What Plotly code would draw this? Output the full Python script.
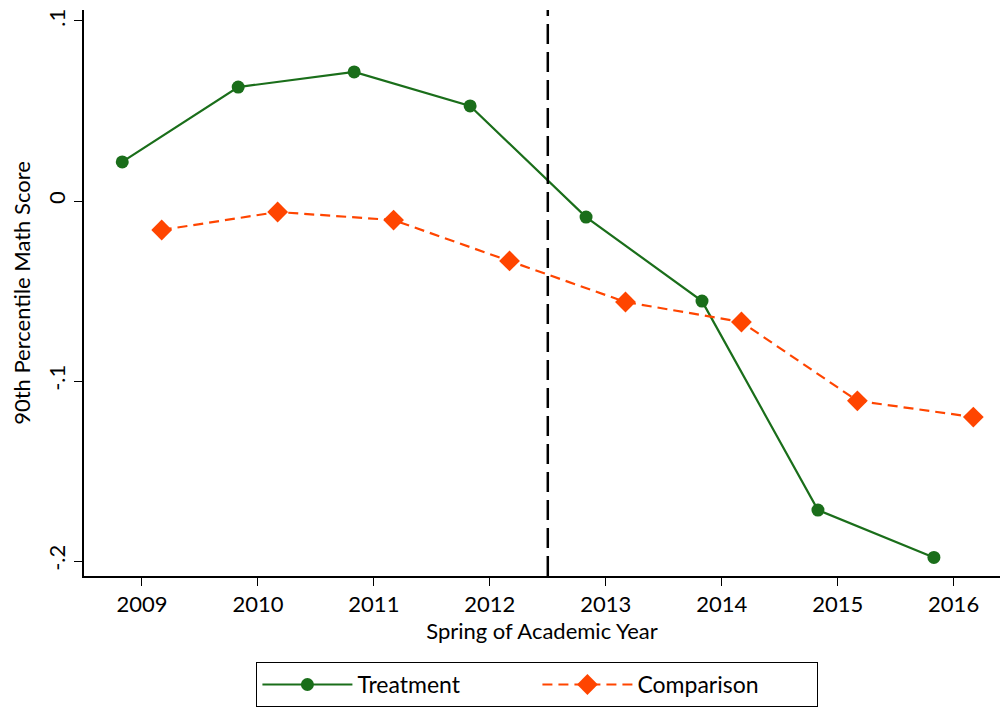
import plotly.graph_objects as go

years = [2009, 2010, 2011, 2012, 2013, 2014, 2015, 2016]
treat_x = [2008.83, 2009.83, 2010.83, 2011.83, 2012.83, 2013.83, 2014.83, 2015.83]
treat_y = [0.0217, 0.0633, 0.0717, 0.0528, -0.0089, -0.0556, -0.1717, -0.198]
comp_x = [2009.17, 2010.17, 2011.17, 2012.17, 2013.17, 2014.17, 2015.17, 2016.17]
comp_y = [-0.0161, -0.0061, -0.0106, -0.0333, -0.0561, -0.0672, -0.111, -0.12]
y_ticks = [-0.2, -0.1, 0, 0.1]
y_labels = ["-.2", "-.1", "0", ".1"]
cutoff = 2012.5

fig = go.Figure()
fig.add_trace(go.Scatter(x=treat_x, y=treat_y, mode="lines+markers", name="Treatment",
                         line=dict(color="#1a6e1a", width=2.2),
                         marker=dict(symbol="circle", size=13, color="#1a6e1a")))
fig.add_trace(go.Scatter(x=comp_x, y=comp_y, mode="lines+markers", name="Comparison",
                         line=dict(color="#ff4500", width=2.2, dash="10px,6px"),
                         marker=dict(symbol="diamond", size=16, color="#ff4500")))
fig.add_vline(x=cutoff, line=dict(color="black", width=2.5, dash="20px,8px"))

font = "Lato, 'Open Sans', sans-serif"
fig.update_layout(
    width=1008, height=714, paper_bgcolor="white", plot_bgcolor="white",
    margin=dict(l=76, r=16, t=2, b=146, autoexpand=False),
    font=dict(family=font, size=22, color="black"),
    showlegend=True,
    legend=dict(orientation="h", x=0.495, xanchor="center", y=-0.152, yanchor="top",
                bordercolor="black", borderwidth=1, font=dict(size=23),
                itemwidth=90, entrywidth=175, entrywidthmode="pixels"),
    xaxis=dict(range=[2008.5, 2016.4], tickvals=years, showgrid=False, zeroline=False,
               showline=True, linecolor="black", linewidth=1.5, ticks="outside",
               ticklen=8, tickcolor="black", automargin=False,
               title=dict(text="Spring of Academic Year", standoff=0, font=dict(size=22))),
    yaxis=dict(range=[-0.2083, 0.1061], tickvals=y_ticks, ticktext=y_labels,
               showgrid=False, zeroline=False, showline=True, linecolor="black",
               linewidth=1.5, ticks="outside", ticklen=8, tickcolor="black",
               tickangle=-90, automargin=False,
               title=dict(text="90th Percentile Math Score", standoff=8, font=dict(size=22))),
)
fig.write_html("out.html")
